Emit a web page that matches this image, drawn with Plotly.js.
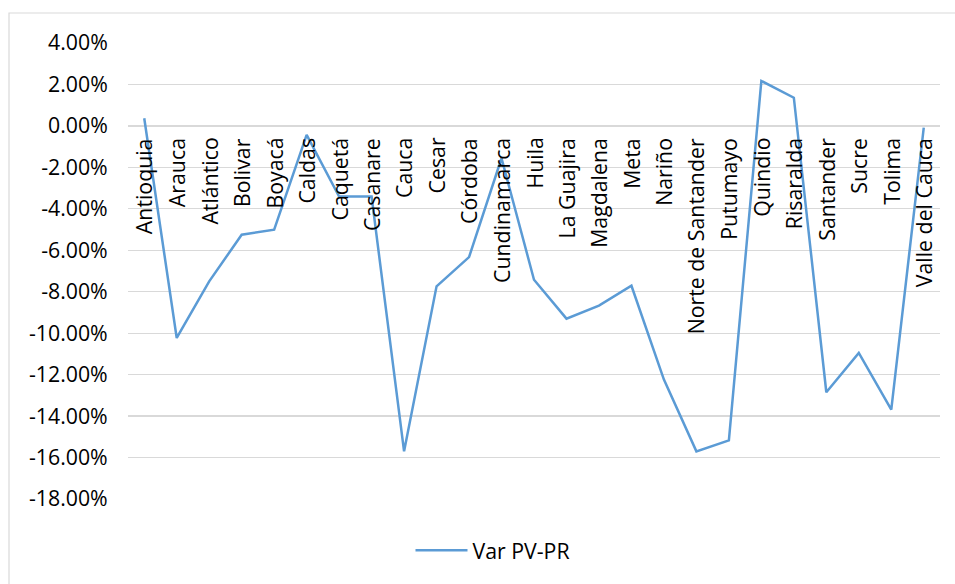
<!DOCTYPE html>
<html>
<head>
<meta charset="utf-8">
<script src="https://cdn.plot.ly/plotly-3.0.1.min.js"></script>
<style>
  html, body { margin: 0; padding: 0; background: #fff; }
  #chart { width: 955px; height: 584px; }
</style>
</head>
<body>
<div id="chart"></div>
<script>
const categories = ["Antioquia", "Arauca", "Atlántico", "Bolivar", "Boyacá", "Caldas", "Caquetá", "Casanare", "Cauca", "Cesar", "Córdoba", "Cundinamarca", "Huila", "La Guajira", "Magdalena", "Meta", "Nariño", "Norte de Santander", "Putumayo", "Quindio", "Risaralda", "Santander", "Sucre", "Tolima", "Valle del Cauca"];
const varPVPR = [0.0037, -0.1023, -0.0750, -0.0525, -0.0501, -0.0043, -0.0341, -0.0341, -0.1570, -0.0774, -0.0633, -0.0156, -0.0742, -0.0930, -0.0867, -0.0771, -0.1224, -0.1570, -0.1517, 0.0217, 0.0136, -0.1285, -0.1095, -0.1369, -0.0008];
const seriesName = "Var PV-PR";
const yTickVals = [0.04, 0.02, 0, -0.02, -0.04, -0.06, -0.08, -0.10, -0.12, -0.14, -0.16, -0.18];
const yTickText = ["4.00%", "2.00%", "0.00%", "-2.00%", "-4.00%", "-6.00%", "-8.00%", "-10.00%", "-12.00%", "-14.00%", "-16.00%", "-18.00%"];

const FONT = "'Open Sans', 'Noto Sans', sans-serif";
const FS = 21.3;

const trace = {
  type: "scatter",
  mode: "lines",
  x: categories,
  y: varPVPR,
  name: seriesName,
  line: { color: "#5B9BD5", width: 2.5 },
  hoverinfo: "x+y"
};

const annotations = categories.map(c => ({
  x: c, y: 0, xref: "x", yref: "y",
  text: c, textangle: -90, showarrow: false,
  xanchor: "center", yanchor: "top", yshift: -10,
  font: { family: FONT, size: FS, color: "#000" }
}));

const layout = {
  width: 955, height: 584,
  margin: { l: 128, r: 15, t: 43, b: 85 },
  paper_bgcolor: "#fff", plot_bgcolor: "#fff",
  font: { family: FONT, size: FS, color: "#000" },
  showlegend: true,
  legend: {
    orientation: "h", x: 0.4495, xanchor: "center", y: -0.113, yanchor: "middle",
    font: { family: FONT, size: FS, color: "#000" }, itemwidth: 52
  },
  xaxis: {
    type: "category", range: [-0.5, categories.length - 0.5],
    showticklabels: false, showgrid: false, zeroline: false, showline: false, ticks: ""
  },
  yaxis: {
    range: [-0.18, 0.04], tickvals: yTickVals, ticktext: yTickText,
    showgrid: true, gridcolor: "#D9D9D9", gridwidth: 1.2, zeroline: false, showline: false,
    ticks: "outside", ticklen: 15, tickcolor: "rgba(0,0,0,0)",
    tickfont: { family: FONT, size: FS, color: "#000" }
  },
  annotations: annotations,
  shapes: [{
    type: "rect", xref: "paper", yref: "paper",
    x0: (9 - 128) / 812, x1: 1.1, y0: -0.4, y1: 1 + (43 - 13) / 456,
    line: { color: "#D9D9D9", width: 1.2 }, fillcolor: "rgba(0,0,0,0)", layer: "below"
  }]
};

Plotly.newPlot("chart", [trace], layout, { displayModeBar: false, staticPlot: true });
</script>
</body>
</html>
